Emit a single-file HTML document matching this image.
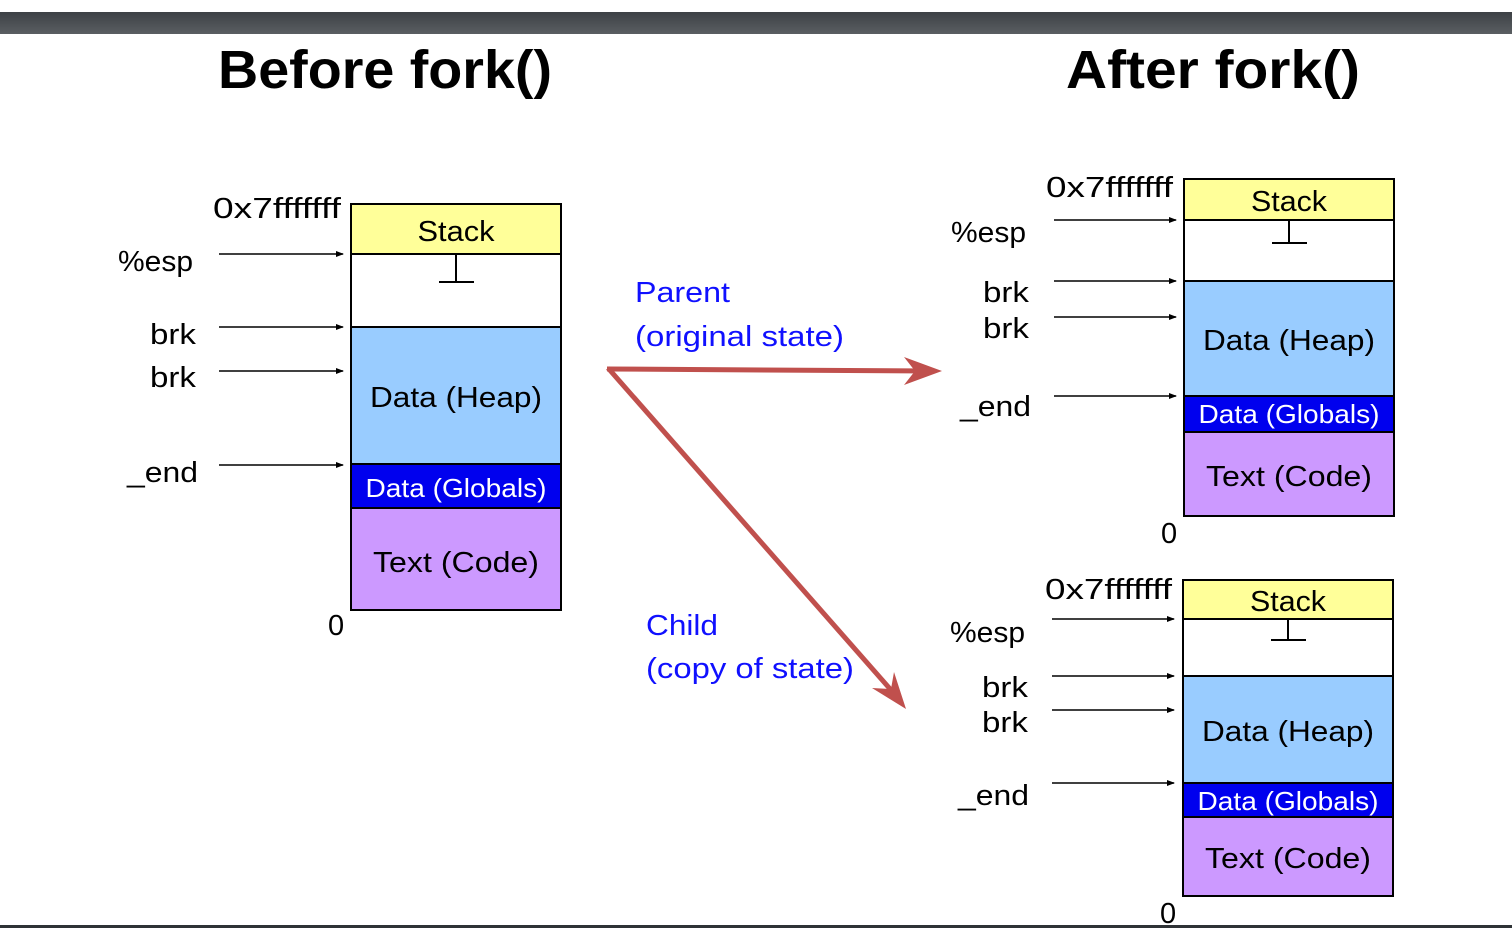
<!DOCTYPE html>
<html><head><meta charset="utf-8"><style>
html,body{margin:0;padding:0;background:#fff;}
svg{display:block;}
text{font-family:"Liberation Sans",sans-serif;}
</style></head><body>
<svg width="1512" height="928" viewBox="0 0 1512 928" xmlns="http://www.w3.org/2000/svg">
<defs>
<linearGradient id="bar" x1="0" y1="0" x2="0" y2="1"><stop offset="0" stop-color="#3d4145"/><stop offset="1" stop-color="#5a5e62"/></linearGradient>
<marker id="ah" markerWidth="8" markerHeight="6" refX="7" refY="3" orient="auto" markerUnits="userSpaceOnUse"><path d="M0,0 L8,3 L0,6 z" fill="#000"/></marker>
</defs>
<rect x="0" y="12" width="1512" height="22" fill="url(#bar)"/>
<rect x="0" y="925" width="1512" height="3" fill="#2f3336"/>

<text x="218" y="88" font-size="54" font-weight="bold" textLength="334" lengthAdjust="spacingAndGlyphs">Before fork()</text>
<text x="1066" y="88" font-size="54" font-weight="bold" textLength="294" lengthAdjust="spacingAndGlyphs">After fork()</text>

<g stroke="#000" stroke-width="2">
<rect x="351" y="204" width="210" height="50" fill="#ffff99"/>
<rect x="351" y="254" width="210" height="73" fill="#fff"/>
<rect x="351" y="327" width="210" height="137" fill="#99ccff"/>
<rect x="351" y="464" width="210" height="44" fill="#0000ee"/>
<rect x="351" y="508" width="210" height="102" fill="#cc99ff"/>
<line x1="456" y1="255" x2="456" y2="282"/><line x1="439" y1="282" x2="474" y2="282"/>
<rect x="1184" y="179" width="210" height="41" fill="#ffff99"/>
<rect x="1184" y="220" width="210" height="61" fill="#fff"/>
<rect x="1184" y="281" width="210" height="115" fill="#99ccff"/>
<rect x="1184" y="396" width="210" height="36" fill="#0000ee"/>
<rect x="1184" y="432" width="210" height="84" fill="#cc99ff"/>
<line x1="1289" y1="221" x2="1289" y2="243"/><line x1="1272" y1="243" x2="1307" y2="243"/>
<rect x="1183" y="580" width="210" height="39" fill="#ffff99"/>
<rect x="1183" y="619" width="210" height="57" fill="#fff"/>
<rect x="1183" y="676" width="210" height="107" fill="#99ccff"/>
<rect x="1183" y="783" width="210" height="34" fill="#0000ee"/>
<rect x="1183" y="817" width="210" height="79" fill="#cc99ff"/>
<line x1="1288" y1="620" x2="1288" y2="640"/><line x1="1271" y1="640" x2="1306" y2="640"/>
</g>

<g stroke="#000" stroke-width="1.6" marker-end="url(#ah)">
<line x1="219" y1="254" x2="343" y2="254"/>
<line x1="219" y1="327" x2="343" y2="327"/>
<line x1="219" y1="371" x2="343" y2="371"/>
<line x1="219" y1="465" x2="343" y2="465"/>
<line x1="1054" y1="220" x2="1176" y2="220"/>
<line x1="1054" y1="281" x2="1176" y2="281"/>
<line x1="1054" y1="317" x2="1176" y2="317"/>
<line x1="1054" y1="396" x2="1176" y2="396"/>
<line x1="1052" y1="619" x2="1174" y2="619"/>
<line x1="1052" y1="676" x2="1174" y2="676"/>
<line x1="1052" y1="710" x2="1174" y2="710"/>
<line x1="1052" y1="783" x2="1174" y2="783"/>
</g>

<g stroke="#c0504d" stroke-width="5" fill="none">
<line x1="607" y1="369" x2="930" y2="371"/>
<line x1="608" y1="368" x2="898" y2="698"/>
</g>
<path d="M942,371 L904,357 L915,371 L904,385 z" fill="#c0504d"/>
<path d="M906,709 L872,688 L891,689 L894,672 z" fill="#c0504d"/>

<g font-size="29" fill="#000">
<text x="341" y="218" text-anchor="end" textLength="128" lengthAdjust="spacingAndGlyphs">0x7fffffff</text>
<text x="118" y="271" textLength="75" lengthAdjust="spacingAndGlyphs">%esp</text>
<text x="150" y="344" textLength="46" lengthAdjust="spacingAndGlyphs">brk</text>
<text x="150" y="387" textLength="46" lengthAdjust="spacingAndGlyphs">brk</text>
<text x="127" y="482" textLength="71" lengthAdjust="spacingAndGlyphs">_end</text>
<text x="328" y="635">0</text>
<text x="456" y="241" text-anchor="middle" textLength="77" lengthAdjust="spacingAndGlyphs">Stack</text>
<text x="456" y="407" text-anchor="middle" textLength="172" lengthAdjust="spacingAndGlyphs">Data (Heap)</text>
<text x="456" y="572" text-anchor="middle" textLength="166" lengthAdjust="spacingAndGlyphs">Text (Code)</text>

<text x="1173" y="197" text-anchor="end" textLength="127" lengthAdjust="spacingAndGlyphs">0x7fffffff</text>
<text x="951" y="242" textLength="75" lengthAdjust="spacingAndGlyphs">%esp</text>
<text x="983" y="302" textLength="46" lengthAdjust="spacingAndGlyphs">brk</text>
<text x="983" y="338" textLength="46" lengthAdjust="spacingAndGlyphs">brk</text>
<text x="960" y="416" textLength="71" lengthAdjust="spacingAndGlyphs">_end</text>
<text x="1161" y="543">0</text>
<text x="1289" y="211" text-anchor="middle" textLength="76" lengthAdjust="spacingAndGlyphs">Stack</text>
<text x="1289" y="350" text-anchor="middle" textLength="172" lengthAdjust="spacingAndGlyphs">Data (Heap)</text>
<text x="1289" y="486" text-anchor="middle" textLength="166" lengthAdjust="spacingAndGlyphs">Text (Code)</text>

<text x="1172" y="599" text-anchor="end" textLength="127" lengthAdjust="spacingAndGlyphs">0x7fffffff</text>
<text x="950" y="642" textLength="75" lengthAdjust="spacingAndGlyphs">%esp</text>
<text x="982" y="697" textLength="46" lengthAdjust="spacingAndGlyphs">brk</text>
<text x="982" y="732" textLength="46" lengthAdjust="spacingAndGlyphs">brk</text>
<text x="958" y="805" textLength="71" lengthAdjust="spacingAndGlyphs">_end</text>
<text x="1160" y="923">0</text>
<text x="1288" y="611" text-anchor="middle" textLength="76" lengthAdjust="spacingAndGlyphs">Stack</text>
<text x="1288" y="741" text-anchor="middle" textLength="172" lengthAdjust="spacingAndGlyphs">Data (Heap)</text>
<text x="1288" y="868" text-anchor="middle" textLength="166" lengthAdjust="spacingAndGlyphs">Text (Code)</text>
</g>
<g font-size="26" fill="#fff">
<text x="456" y="497" text-anchor="middle" textLength="181" lengthAdjust="spacingAndGlyphs">Data (Globals)</text>
<text x="1289" y="423" text-anchor="middle" textLength="181" lengthAdjust="spacingAndGlyphs">Data (Globals)</text>
<text x="1288" y="810" text-anchor="middle" textLength="181" lengthAdjust="spacingAndGlyphs">Data (Globals)</text>
</g>
<g font-size="29" fill="#1010ff">
<text x="635" y="302" textLength="95" lengthAdjust="spacingAndGlyphs">Parent</text>
<text x="635" y="346" textLength="209" lengthAdjust="spacingAndGlyphs">(original state)</text>
<text x="646" y="635" textLength="72" lengthAdjust="spacingAndGlyphs">Child</text>
<text x="646" y="678" textLength="208" lengthAdjust="spacingAndGlyphs">(copy of state)</text>
</g>
</svg>
</body></html>
